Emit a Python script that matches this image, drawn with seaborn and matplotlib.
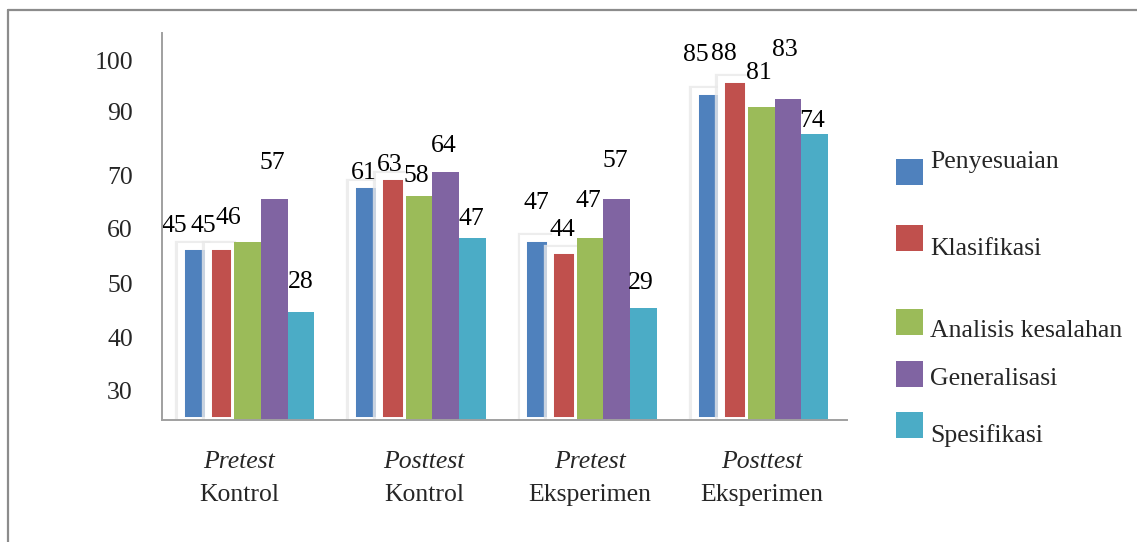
import matplotlib
matplotlib.use("Agg")
import matplotlib.pyplot as plt
import matplotlib.patheffects as pe
from matplotlib.patches import Rectangle
from matplotlib.lines import Line2D
import pandas as pd
import seaborn as sns

# ---- data -------------------------------------------------------------
group_mode = ["Pretest", "Posttest", "Pretest", "Posttest"]
group_class = ["Kontrol", "Kontrol", "Eksperimen", "Eksperimen"]
aspects = ["Penyesuaian", "Klasifikasi", "Analisis kesalahan",
           "Generalisasi", "Spesifikasi"]

penyesuaian = [45, 61, 47, 85]
klasifikasi = [45, 63, 44, 88]
analisis_kesalahan = [46, 58, 47, 81]
generalisasi = [57, 64, 57, 83]
spesifikasi = [28, 47, 29, 74]

ytick_labels = ["100", "90", "70", "60", "50", "40", "30"]

# ---- layout / style ---------------------------------------------------
colors = ["#4F81BD", "#C0504D", "#9BBB59", "#8064A2", "#4BACC6"]
ytick_label_pos = [93.0, 79.6, 63.3, 49.4, 35.4, 21.4, 7.75]
# value-label offsets (points) per aspect, per group
label_nudge = [
    [(-14, 14), (-1, 8), (0, 25), (-9, 26)],
    [(-13, 14), (-2, 8), (-1, 14), (-8, 18)],
    [(-14, 17), (-2, 14), (-1, 27), (-2, 24)],
    [(-1.5, 26), (-1, 19), (-1, 28), (-2, 35)],
    [(0, 21), (-1, 14), (-2, 18), (-2, 9)],
]
cat_nudge = [-0.05, 0.03, 0.0, 0.0]

sns.set_style("white")
plt.rcParams["font.family"] = ["Liberation Serif", "DejaVu Serif"]
FS = 18.5

series = [penyesuaian, klasifikasi, analisis_kesalahan, generalisasi, spesifikasi]
groups = [f"{m} {c}" for m, c in zip(group_mode, group_class)]
rows = []
for asp, vals in zip(aspects, series):
    for g, v in zip(groups, vals):
        rows.append({"kelompok": g, "aspek": asp, "nilai": v})
df = pd.DataFrame(rows)

fig = plt.figure(figsize=(11.37, 5.42), dpi=100)
W, H = 1137, 542
ax = fig.add_axes([162 / W, (H - 420) / H, (847 - 162) / W, (420 - 33) / H])

sns.barplot(data=df, x="kelompok", y="nilai", hue="aspek", order=groups,
            hue_order=aspects, palette=colors, width=0.78, saturation=1,
            errorbar=None, legend=False, ax=ax)

# first two series: white rim with a faint shadow on the upper left
for ci, cont in enumerate(ax.containers):
    for bar in cont:
        if ci < 2:
            bar.set_edgecolor("white")
            bar.set_linewidth(5)
            bar.set_path_effects([
                pe.Stroke(offset=(-1.3, 0.8), linewidth=6.0,
                          foreground="#e9e9e9", alpha=0.8),
                pe.Normal(),
            ])
        else:
            bar.set_edgecolor("none")

# value labels
for ci, cont in enumerate(ax.containers):
    for gi, bar in enumerate(cont):
        val = series[ci][gi]
        cx = bar.get_x() + bar.get_width() / 2
        dx, dy = label_nudge[ci][gi]
        ax.annotate(str(val), xy=(cx, val), xytext=(dx, dy),
                    textcoords="offset points", ha="center", va="center",
                    fontsize=FS, color="black")

ax.set_xlim(-0.5, len(groups) - 0.5)
ax.set_ylim(0, 100)

# axes styling
for side in ["top", "right"]:
    ax.spines[side].set_visible(False)
for side in ["left", "bottom"]:
    ax.spines[side].set_color("#a0a0a0")
    ax.spines[side].set_linewidth(1.4)
    ax.spines[side].set_zorder(5)

ax.set_yticks(ytick_label_pos)
ax.set_yticklabels(ytick_labels, fontsize=FS)
ax.tick_params(axis="y", which="major", length=0, pad=21)
ax.set_yticks(range(0, 101, 10), minor=True)
ax.tick_params(axis="y", which="minor", length=6.5, width=1.4,
               color="#a0a0a0", direction="out")

ax.set_xticks([i - 0.5 for i in range(len(groups) + 1)])
ax.set_xticklabels([])
ax.tick_params(axis="x", which="major", length=4.5, width=1.4,
               color="#a0a0a0", direction="out")
ax.set_xlabel("")
ax.set_ylabel("")

xt = ax.get_xaxis_transform()
for i, (m, c) in enumerate(zip(group_mode, group_class)):
    ax.text(i + cat_nudge[i], -0.1085, m, transform=xt, ha="center",
            va="center", fontsize=FS, style="italic")
    ax.text(i + cat_nudge[i], -0.194, c, transform=xt, ha="center",
            va="center", fontsize=FS)

# legend with its own spacing
leg_centers = [172, 238, 322, 374, 425]
leg_baselines = [168, 255, 337, 385, 442]
for col, name, yc, yb in zip(colors, aspects, leg_centers, leg_baselines):
    fig.add_artist(Rectangle((896 / W, (H - yc - 13) / H), 27 / W, 26 / H,
                             transform=fig.transFigure, facecolor=col,
                             edgecolor="none"))
    fig.text(930 / W, (H - yb) / H, name, fontsize=FS, ha="left",
             va="baseline")

# frame around the chart
fig.add_artist(Line2D([8 / W, 8 / W], [0, (H - 10) / H],
                      transform=fig.transFigure, color="#8c8c8c", lw=1.6))
fig.add_artist(Line2D([8 / W, 1], [(H - 10) / H, (H - 10) / H],
                      transform=fig.transFigure, color="#8c8c8c", lw=1.6))

fig.savefig("out.png", dpi=100)
